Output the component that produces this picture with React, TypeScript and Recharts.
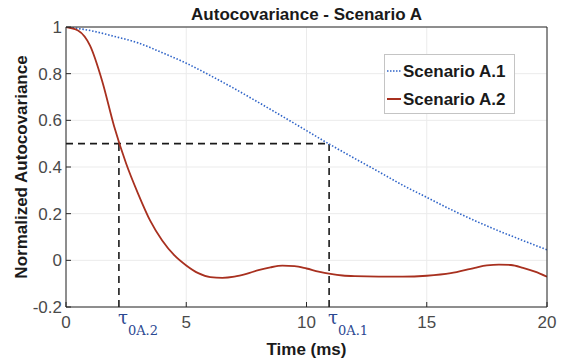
import React from 'react';
import {
    CartesianGrid,
    Line,
    LineChart,
    ReferenceLine,
    XAxis,
    YAxis,
} from 'recharts';

// Scenario A.1 (dotted blue)
const a1Time = [0, 1, 2, 3, 4, 5, 6, 7, 8, 9, 10, 11, 12, 13, 14, 15, 16, 17, 18, 19, 20];
const a1Values = [
    1.0, 0.985, 0.96, 0.932, 0.89, 0.845, 0.792, 0.736, 0.677, 0.617, 0.556, 0.495, 0.437,
    0.38, 0.322, 0.27, 0.218, 0.17, 0.126, 0.085, 0.045,
];

// Scenario A.2 (solid red)
const a2Time = [
    0, 0.5, 1, 1.5, 2, 2.5, 3, 3.5, 4, 4.5, 5, 5.5, 6, 6.5, 7, 7.5, 8, 8.5, 9, 9.5, 10, 10.5,
    11, 11.5, 12, 13, 14, 15, 16, 17, 17.5, 18, 18.5, 19, 19.5, 20,
];
const a2Values = [
    1.0, 0.985, 0.92, 0.77, 0.575, 0.415, 0.285, 0.17, 0.085, 0.022, -0.022, -0.055, -0.072,
    -0.075, -0.07, -0.058, -0.042, -0.03, -0.023, -0.025, -0.035, -0.048, -0.058, -0.065,
    -0.068, -0.07, -0.07, -0.066, -0.055, -0.032, -0.022, -0.018, -0.02, -0.032, -0.048, -0.07,
];

const xTicks = [0, 5, 10, 15, 20];
const yTicks = [-0.2, 0, 0.2, 0.4, 0.6, 0.8, 1];

// crossing times at 0.5
const tauA2 = 2.2;
const tauA1 = 10.94;
const halfLevel = 0.5;

const series1 = a1Time.map((t, i) => ({ t, v: a1Values[i] }));
const series2 = a2Time.map((t, i) => ({ t, v: a2Values[i] }));

const BLUE = '#2f64c8';
const RED = '#a8301f';
const FONT = '"Liberation Sans", Arial, sans-serif';
const TICK_FILL = '#4a4a4a';
const LABEL_SIZE = 17;

const TauLabel = (sub: string) => (props: any) => {
    const { viewBox } = props;
    const x = viewBox.x - 1;
    const y = viewBox.y + viewBox.height + 17;
    return (
        <text x={x} y={y} fill="#2b4891" fontFamily='"DejaVu Serif", serif' fontSize={18}>
            τ
            <tspan dy={11} fontSize={13}>
                {sub}
            </tspan>
        </text>
    );
};

const LegendBox = () => (
    <svg
        width={131}
        height={60}
        style={{ position: 'absolute', left: 384, top: 54 }}
    >
        <rect x={0.5} y={0.5} width={130} height={59} fill="#fff" stroke="#c4c4c4" />
        <line x1={3} y1={17} x2={17} y2={17} stroke={BLUE} strokeWidth={1.5} strokeDasharray="1.5 1.5" />
        <text x={19} y={22.5} fontFamily={FONT} fontWeight="bold" fontSize={LABEL_SIZE} fill="#1a1a1a">
            Scenario A.1
        </text>
        <line x1={3} y1={45} x2={17} y2={45} stroke={RED} strokeWidth={2} />
        <text x={19} y={50.5} fontFamily={FONT} fontWeight="bold" fontSize={LABEL_SIZE} fill="#1a1a1a">
            Scenario A.2
        </text>
    </svg>
);

export default function App() {
    return (
        <div style={{ position: 'absolute', left: 0, top: 0, width: 563, height: 363, background: '#fff' }}>
            <LineChart width={563} height={363} margin={{ top: 0, right: 0, bottom: 0, left: 0 }}>
                <CartesianGrid stroke="#ebebeb" xAxisId="bottom" yAxisId="left" />
                <XAxis
                    xAxisId="bottom"
                    dataKey="t"
                    type="number"
                    domain={[0, 20]}
                    ticks={xTicks}
                    height={56}
                    allowDataOverflow
                    axisLine={{ stroke: '#262626' }}
                    tickLine={{ stroke: '#262626' }}
                    tickSize={-5}
                    tickMargin={14}
                    tick={{ fill: TICK_FILL, fontSize: 17, fontFamily: FONT }}
                    label={{
                        content: (p: any) => (
                            <text
                                x={p.viewBox.x + p.viewBox.width / 2}
                                y={355}
                                textAnchor="middle"
                                fontFamily={FONT}
                                fontWeight="bold"
                                fontSize={LABEL_SIZE}
                                fill="#1a1a1a"
                            >
                                Time (ms)
                            </text>
                        ),
                    }}
                />
                <XAxis
                    xAxisId="top"
                    orientation="top"
                    dataKey="t"
                    type="number"
                    domain={[0, 20]}
                    ticks={xTicks}
                    height={27}
                    axisLine={{ stroke: '#262626' }}
                    tickLine={{ stroke: '#262626' }}
                    tickSize={-5}
                    tick={() => <g />}
                    label={{
                        content: (p: any) => (
                            <text
                                x={p.viewBox.x + p.viewBox.width / 2}
                                y={20}
                                textAnchor="middle"
                                fontFamily={FONT}
                                fontWeight="bold"
                                fontSize={LABEL_SIZE}
                                fill="#1a1a1a"
                            >
                                Autocovariance - Scenario A
                            </text>
                        ),
                    }}
                />
                <YAxis
                    yAxisId="left"
                    type="number"
                    domain={[-0.2, 1]}
                    ticks={yTicks}
                    width={66}
                    allowDataOverflow
                    axisLine={{ stroke: '#262626' }}
                    tickLine={{ stroke: '#262626' }}
                    tickSize={-5}
                    tickMargin={9}
                    tickFormatter={(v: number) => `${Math.round(v * 10) / 10}`}
                    tick={{ fill: TICK_FILL, fontSize: 17, fontFamily: FONT }}
                    label={{
                        content: () => (
                            <text
                                x={27}
                                y={167}
                                transform="rotate(-90 27 167)"
                                textAnchor="middle"
                                fontFamily={FONT}
                                fontWeight="bold"
                                fontSize={LABEL_SIZE}
                                fill="#1a1a1a"
                            >
                                Normalized Autocovariance
                            </text>
                        ),
                    }}
                />
                <YAxis
                    yAxisId="right"
                    orientation="right"
                    type="number"
                    domain={[-0.2, 1]}
                    ticks={yTicks}
                    width={16}
                    axisLine={{ stroke: '#262626' }}
                    tickLine={{ stroke: '#262626' }}
                    tickSize={-5}
                    tick={() => <g />}
                />
                <ReferenceLine
                    xAxisId="bottom"
                    yAxisId="left"
                    segment={[
                        { x: 0, y: halfLevel },
                        { x: tauA1, y: halfLevel },
                    ]}
                    stroke="#1a1a1a"
                    strokeWidth={1.6}
                    strokeDasharray="7 5"
                />
                <ReferenceLine
                    xAxisId="bottom"
                    yAxisId="left"
                    segment={[
                        { x: tauA2, y: -0.2 },
                        { x: tauA2, y: halfLevel },
                    ]}
                    stroke="#1a1a1a"
                    strokeWidth={1.6}
                    strokeDasharray="7 5"
                    label={{ content: TauLabel('0A.2') }}
                />
                <ReferenceLine
                    xAxisId="bottom"
                    yAxisId="left"
                    segment={[
                        { x: tauA1, y: -0.2 },
                        { x: tauA1, y: halfLevel },
                    ]}
                    stroke="#1a1a1a"
                    strokeWidth={1.6}
                    strokeDasharray="7 5"
                    label={{ content: TauLabel('0A.1') }}
                />
                <Line
                    xAxisId="bottom"
                    yAxisId="left"
                    data={series1}
                    dataKey="v"
                    type="monotone"
                    stroke={BLUE}
                    strokeWidth={1.6}
                    strokeDasharray="1.5 1.8"
                    dot={false}
                    isAnimationActive={false}
                />
                <Line
                    xAxisId="bottom"
                    yAxisId="left"
                    data={series2}
                    dataKey="v"
                    type="monotone"
                    stroke={RED}
                    strokeWidth={1.8}
                    dot={false}
                    isAnimationActive={false}
                />
            </LineChart>
            <LegendBox />
        </div>
    );
}
